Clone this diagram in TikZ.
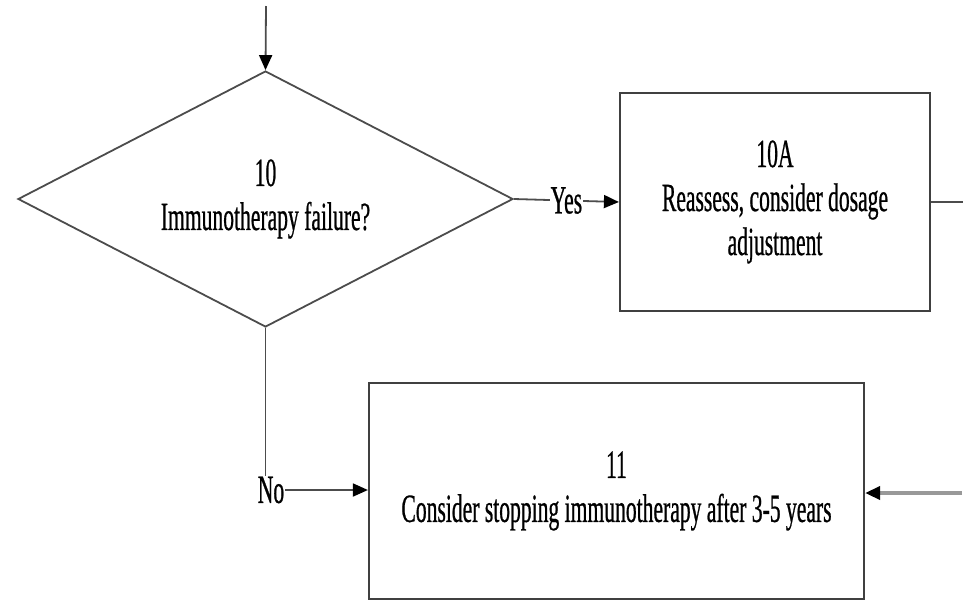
\documentclass[tikz,border=0pt]{standalone}
\usepackage{fontspec}
\setmainfont[FakeStretch=0.54,FakeBold=0.6]{Liberation Serif}
\usetikzlibrary{shapes.geometric,arrows.meta}
\begin{document}
\begin{tikzpicture}[x=1pt,y=-1pt,
  every node/.style={font=\fontsize{40}{44}\selectfont, text=black},
  decision/.style={draw=black!70, line width=1.8pt, shape=diamond, shape aspect=1.93,
     minimum width=495pt, minimum height=256pt, inner sep=0pt, align=center},
  stepbox/.style={draw=black!75, line width=2.2pt, rectangle, inner sep=0pt, align=center},
  flow/.style={draw=black!70, line width=1.8pt},
  tip/.style={-{Triangle[length=15pt,width=13pt,fill=black,color=black]}},
  lbl/.style={fill=white, inner sep=1pt}
]
\useasboundingbox (0,0) rectangle (963,606);

\node[decision] (d10) at (265.5,199) {10\\Immunotherapy failure?};
\node[stepbox, minimum width=310pt, minimum height=218pt] (b10a) at (775,202)
   {10A\\Reassess, consider dosage\\adjustment};
\node[stepbox, minimum width=495pt, minimum height=216pt] (b11) at (616.5,491)
   {11\\Consider stopping immunotherapy after 3-5 years};

\coordinate (top) at (266,6);
\coordinate (out10a) at (963,202);
\coordinate (in11) at (962,493);
\node[inner sep=1pt] (no) at (271,490) {No};

\draw[flow, tip] (top) -- (d10.north);
\draw[flow, tip] (d10.east) -- node[lbl] {Yes} (b10a.west);
\draw[flow] (b10a.east) -- (out10a);
\draw[flow] (d10.south) -- (d10.south |- no.north);
\draw[flow, tip] (no.east) -- (no.east -| b11.west);
\draw[flow, draw=black!40, line width=3.5pt, tip] (in11) -- (in11 -| b11.east);
\end{tikzpicture}
\end{document}
